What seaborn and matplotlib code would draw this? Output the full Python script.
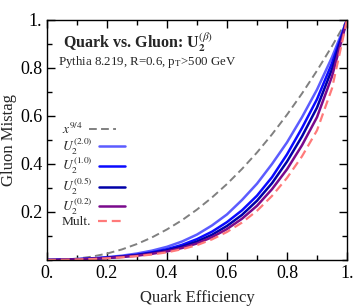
import matplotlib
matplotlib.use("Agg")
import matplotlib.pyplot as plt
import seaborn as sns
from matplotlib.ticker import MultipleLocator, FixedLocator

# quark efficiency grid and the gluon mistag curves
quark_eff = [0.0, 0.05, 0.1, 0.15, 0.2, 0.25, 0.3, 0.35, 0.4, 0.45, 0.5,
             0.55, 0.6, 0.65, 0.7, 0.75, 0.8, 0.85, 0.9, 0.95, 1.0]
mistag_power = [0.0, 0.0012, 0.0056, 0.014, 0.0268, 0.0442, 0.0667, 0.0942, 0.1275, 0.1658, 0.2102,
                0.2605, 0.3167, 0.3794, 0.4479, 0.5235, 0.6054, 0.6937, 0.789, 0.891, 1.0]
mistag_u2_20 = [0.0, 0.001, 0.004, 0.007, 0.012, 0.018, 0.027, 0.039, 0.055, 0.077, 0.106,
                0.144, 0.19, 0.25, 0.318, 0.40, 0.49, 0.595, 0.71, 0.845, 1.0]
mistag_u2_10 = [0.0, 0.001, 0.003, 0.006, 0.010, 0.015, 0.022, 0.032, 0.045, 0.063, 0.087,
                0.118, 0.158, 0.207, 0.268, 0.345, 0.44, 0.55, 0.67, 0.82, 1.0]
mistag_u2_05 = [0.0, 0.001, 0.003, 0.005, 0.009, 0.014, 0.020, 0.029, 0.040, 0.056, 0.077,
                0.105, 0.142, 0.188, 0.247, 0.32, 0.41, 0.515, 0.635, 0.795, 1.0]
mistag_u2_02 = [0.0, 0.001, 0.003, 0.005, 0.008, 0.013, 0.018, 0.026, 0.036, 0.050, 0.069,
                0.095, 0.129, 0.172, 0.226, 0.295, 0.378, 0.478, 0.595, 0.765, 1.0]
mistag_mult = [0.0, 0.001, 0.002, 0.004, 0.007, 0.011, 0.016, 0.023, 0.032, 0.045, 0.062,
               0.086, 0.117, 0.156, 0.205, 0.267, 0.342, 0.432, 0.54, 0.715, 1.0]

labels = [r"$x^{9/4}$", r"$U_2^{(2.0)}$", r"$U_2^{(1.0)}$", r"$U_2^{(0.5)}$", r"$U_2^{(0.2)}$", "Mult."]
x_ticklabels = ["0.", "0.2", "0.4", "0.6", "0.8", "1."]
y_ticklabels = ["0.2", "0.4", "0.6", "0.8", "1."]

sns.set_style("ticks")
plt.rcParams["font.family"] = ["Liberation Serif", "DejaVu Serif"]
plt.rcParams["mathtext.fontset"] = "stix"

fig = plt.figure(figsize=(3.54, 3.06), dpi=100)
ax = fig.add_axes([47 / 354, 46 / 306, 300 / 354, 240 / 306])

styles = [
    (mistag_power, "#808080", (0, (4, 2.2)), 1.4),
    (mistag_u2_20, "#5c5cff", "-", 1.8),
    (mistag_u2_10, "#0a0aff", "-", 1.8),
    (mistag_u2_05, "#0000a8", "-", 1.8),
    (mistag_u2_02, "#7a0a8c", "-", 1.8),
    (mistag_mult, "#ff7a7a", (0, (4, 2.2)), 1.6),
]
for (ys, col, ls, lw), lab in zip(styles, labels):
    sns.lineplot(x=quark_eff, y=ys, ax=ax, color=col, linestyle=ls, linewidth=lw, label=lab)

ax.set_xlim(0, 1)
ax.set_ylim(0, 1)
ax.xaxis.set_major_locator(FixedLocator([0, 0.2, 0.4, 0.6, 0.8, 1.0]))
ax.yaxis.set_major_locator(FixedLocator([0.2, 0.4, 0.6, 0.8, 1.0]))
ax.set_xticklabels(x_ticklabels)
ax.set_yticklabels(y_ticklabels)
ax.xaxis.set_minor_locator(MultipleLocator(0.1))
ax.yaxis.set_minor_locator(MultipleLocator(0.1))
ax.tick_params(which="both", direction="in", top=True, right=True, labelsize=13, width=1.0, colors="black")
ax.tick_params(which="major", length=6)
ax.tick_params(which="minor", length=3.5)
for sp in ax.spines.values():
    sp.set_linewidth(1.0)
    sp.set_color("black")

ax.set_xlabel("Quark Efficiency", fontsize=12, labelpad=6)
ax.set_ylabel("Gluon Mistag", fontsize=12)
ax.yaxis.set_label_coords(-0.1, 0.5)

ax.text(0.052, 0.904, r"Quark vs. Gluon: U$_\mathbf{2}^{(\beta)}$", transform=ax.transAxes,
        fontsize=11.5, fontweight="bold", va="center", ha="left")
ax.text(0.037, 0.825, r"Pythia 8.219, R=0.6, p$_\mathrm{T}$>500 GeV", transform=ax.transAxes,
        fontsize=9.3, va="center", ha="left")

leg = ax.legend(loc="center left", bbox_to_anchor=(0.05, 0.354), frameon=False, markerfirst=False,
                fontsize=9.6, handlelength=2.0, handletextpad=0.45, labelspacing=-0.05,
                borderaxespad=0.0, borderpad=0.0)
# keep the labels flush left like the original
for col in leg._legend_handle_box.get_children():
    col.align = "left"

fig.savefig("out.png", dpi=100)
